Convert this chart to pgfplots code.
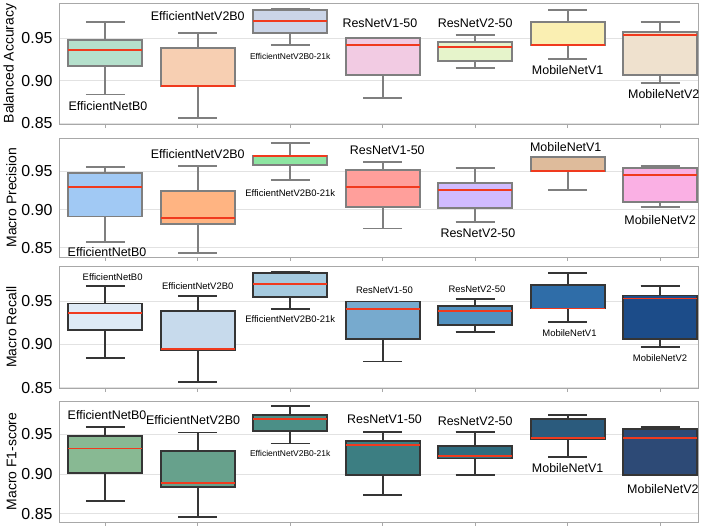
\documentclass[border=0pt]{standalone}
\usepackage{fontspec}
\setmainfont{Liberation Sans}
\usepackage{pgfplots}
\pgfplotsset{compat=1.18}
\usepgfplotslibrary{statistics}

\definecolor{edgeA}{HTML}{7F7F7F}
\definecolor{edgeB}{HTML}{353535}
\definecolor{medred}{HTML}{F03A1E}
\definecolor{axgray}{HTML}{A8A8A8}
\definecolor{gridgray}{HTML}{E2E2E2}
% panel 1 (Pastel2)
\definecolor{pa1}{HTML}{B5E0CC}\definecolor{pa2}{HTML}{F7CFB2}\definecolor{pa3}{HTML}{CBD5E8}
\definecolor{pa4}{HTML}{F2CBE3}\definecolor{pa5}{HTML}{E6F4CB}\definecolor{pa6}{HTML}{FAEFB2}
\definecolor{pa7}{HTML}{EFE1CE}
% panel 2 (pastel)
\definecolor{pb1}{HTML}{A1C9F4}\definecolor{pb2}{HTML}{FFB482}\definecolor{pb3}{HTML}{8DE5A1}
\definecolor{pb4}{HTML}{FF9F9B}\definecolor{pb5}{HTML}{D0BBFF}\definecolor{pb6}{HTML}{DEBB9B}
\definecolor{pb7}{HTML}{FAB0E4}
% panel 3 (Blues)
\definecolor{pc1}{HTML}{DEEAF5}\definecolor{pc2}{HTML}{C7DAEC}\definecolor{pc3}{HTML}{A5CADF}
\definecolor{pc4}{HTML}{77AACE}\definecolor{pc5}{HTML}{5191C0}\definecolor{pc6}{HTML}{2F6DA8}
\definecolor{pc7}{HTML}{1C4C89}
% panel 4 (crest)
\definecolor{pd1}{HTML}{88B993}\definecolor{pd2}{HTML}{67A18C}\definecolor{pd3}{HTML}{4B8F87}
\definecolor{pd4}{HTML}{3C7E82}\definecolor{pd5}{HTML}{2F6C7F}\definecolor{pd6}{HTML}{2B5B7D}
\definecolor{pd7}{HTML}{2D4A76}

\newcommand\lbl{\fontsize{12.5}{15}\selectfont}
\newcommand\lbm{\fontsize{9.5}{11}\selectfont}
\newcommand\lbs{\fontsize{8.5}{10}\selectfont}

% #1 position, #2 lower whisker, #3 Q1, #4 median, #5 Q3, #6 upper whisker, #7 fill, #8 edge
\newcommand{\bx}[8]{%
\addplot[boxplot prepared={draw position=#1, lower whisker=#2, lower quartile=#3,
  median=#4, upper quartile=#5, upper whisker=#6, box extend=0.8, whisker extend=0.42},
  draw=#8, line width=1.9pt, fill=#7, solid] coordinates {};}

\pgfplotsset{
  panel/.style={
    scale only axis, width=639bp, anchor=north west,
    xmin=-0.5, xmax=6.41,
    xtick={0,1,2,3,4,5,6}, xticklabels={},
    tick pos=left, tick align=outside, major tick length=4bp,
    ytick={0.85,0.90,0.95}, yticklabels={0.85,0.90,0.95},
    ytick style={draw=none},
    ymajorgrids, grid style={draw=gridgray, line width=0.8pt},
    axis line style={draw=axgray, line width=1pt},
    xtick style={draw=axgray, line width=0.8pt},
    ticklabel style={font=\fontsize{16}{19}\selectfont},
    yticklabel style={xshift=1bp},
    ylabel style={font=\fontsize{14}{17}\selectfont, yshift=-2bp},
    boxplot/draw direction=y,
    boxplot/every median/.style={draw=medred, line width=1.9pt},
  }
}

\begin{document}
\begin{tikzpicture}
\useasboundingbox (0,0) rectangle (708bp,-526bp);

% ---------- Balanced Accuracy ----------
\begin{axis}[panel, at={(59bp,-3bp)}, height=121bp, ymin=0.849, ymax=0.991,
  ylabel={Balanced Accuracy}]
\bx{0}{0.8836}{0.9168}{0.9363}{0.9473}{0.9684}{pa1}{edgeA}
\bx{1}{0.8563}{0.8934}{0.8941}{0.9383}{0.9559}{pa2}{edgeA}
\bx{2}{0.9414}{0.9559}{0.9703}{0.9824}{0.9844}{pa3}{edgeA}
\bx{3}{0.8800}{0.9066}{0.9414}{0.9496}{0.9496}{pa4}{edgeA}
\bx{4}{0.9148}{0.9230}{0.9391}{0.9449}{0.9531}{pa5}{edgeA}
\bx{5}{0.9258}{0.9414}{0.9414}{0.9691}{0.9832}{pa6}{edgeA}
\bx{6}{0.8973}{0.9066}{0.9539}{0.9570}{0.9684}{pa7}{edgeA}
\node[font=\lbl] at (0.03,0.870) {EfficientNetB0};
\node[font=\lbl] at (1.0,0.9754) {EfficientNetV2B0};
\node[font=\lbs] at (2.0,0.9285) {EfficientNetV2B0-21k};
\node[font=\lbl] at (2.97,0.9668) {ResNetV1-50};
\node[font=\lbl] at (4.0,0.9668) {ResNetV2-50};
\node[font=\lbl] at (5.0,0.9121) {MobileNetV1};
\node[font=\lbl] at (6.04,0.8844) {MobileNetV2};
\end{axis}

% ---------- Macro Precision ----------
\begin{axis}[panel, at={(59bp,-138bp)}, height=119bp, ymin=0.838, ymax=0.9935,
  ylabel={Macro Precision}]
\bx{0}{0.8574}{0.8909}{0.9296}{0.9478}{0.9552}{pb1}{edgeA}
\bx{1}{0.8435}{0.8813}{0.8887}{0.9248}{0.9565}{pb2}{edgeA}
\bx{2}{0.9391}{0.9587}{0.9696}{0.9696}{0.9870}{pb3}{edgeA}
\bx{3}{0.8752}{0.9030}{0.9291}{0.9517}{0.9626}{pb4}{edgeA}
\bx{4}{0.8839}{0.9022}{0.9252}{0.9352}{0.9543}{pb5}{edgeA}
\bx{5}{0.9252}{0.9504}{0.9504}{0.9687}{0.9687}{pb6}{edgeA}
\bx{6}{0.9035}{0.9104}{0.9452}{0.9543}{0.9565}{pb7}{edgeA}
\node[font=\lbl] at (0.02,0.8448) {EfficientNetB0};
\node[font=\lbl] at (1.0,0.973) {EfficientNetV2B0};
\node[font=\lbm] at (2.0,0.9217) {EfficientNetV2B0-21k};
\node[font=\lbl] at (3.05,0.9774) {ResNetV1-50};
\node[font=\lbl] at (4.03,0.8687) {ResNetV2-50};
\node[font=\lbl] at (4.98,0.9817) {MobileNetV1};
\node[font=\lbl] at (6.0,0.886) {MobileNetV2};
\end{axis}

% ---------- Macro Recall ----------
\begin{axis}[panel, at={(59bp,-266bp)}, height=122bp, ymin=0.8496, ymax=0.9907,
  ylabel={Macro Recall}]
\bx{0}{0.8841}{0.9167}{0.9364}{0.9473}{0.9678}{pc1}{edgeB}
\bx{1}{0.8562}{0.8938}{0.8946}{0.9391}{0.9558}{pc2}{edgeB}
\bx{2}{0.9411}{0.9550}{0.9702}{0.9826}{0.9837}{pc3}{edgeB}
\bx{3}{0.8802}{0.9066}{0.9411}{0.9496}{0.9496}{pc4}{edgeB}
\bx{4}{0.9147}{0.9229}{0.9388}{0.9442}{0.9523}{pc5}{edgeB}
\bx{5}{0.9260}{0.9415}{0.9415}{0.9686}{0.9826}{pc6}{edgeB}
\bx{6}{0.8969}{0.9066}{0.9531}{0.9566}{0.9678}{pc7}{edgeB}
\node[font=\lbm] at (0.08,0.9783) {EfficientNetB0};
\node[font=\lbm] at (1.0,0.9674) {EfficientNetV2B0};
\node[font=\lbm] at (2.0,0.9295) {EfficientNetV2B0-21k};
\node[font=\lbm] at (3.02,0.9628) {ResNetV1-50};
\node[font=\lbm] at (4.02,0.9643) {ResNetV2-50};
\node[font=\lbm] at (5.02,0.9132) {MobileNetV1};
\node[font=\lbm] at (6.0,0.8841) {MobileNetV2};
\end{axis}

% ---------- Macro F1-score ----------
\begin{axis}[panel, at={(59bp,-401bp)}, height=121bp, ymin=0.8395, ymax=0.9922,
  ylabel={Macro F1-score}]
\bx{0}{0.8660}{0.9011}{0.9323}{0.9475}{0.9593}{pd1}{edgeB}
\bx{1}{0.8458}{0.8842}{0.8892}{0.9293}{0.9525}{pd2}{edgeB}
\bx{2}{0.9386}{0.9538}{0.9698}{0.9745}{0.9854}{pd3}{edgeB}
\bx{3}{0.8740}{0.8987}{0.9365}{0.9420}{0.9534}{pd4}{edgeB}
\bx{4}{0.8985}{0.9196}{0.9230}{0.9352}{0.9534}{pd5}{edgeB}
\bx{5}{0.9217}{0.9437}{0.9454}{0.9694}{0.9745}{pd6}{edgeB}
\bx{6}{0.8985}{0.8985}{0.9458}{0.9568}{0.9593}{pd7}{edgeB}
\node[font=\lbl] at (0.02,0.9745) {EfficientNetB0};
\node[font=\lbl] at (0.95,0.9681) {EfficientNetV2B0};
\node[font=\lbs] at (2.0,0.926) {EfficientNetV2B0-21k};
\node[font=\lbl] at (3.02,0.969) {ResNetV1-50};
\node[font=\lbl] at (4.0,0.9673) {ResNetV2-50};
\node[font=\lbl] at (5.0,0.907) {MobileNetV1};
\node[font=\lbl] at (6.03,0.8808) {MobileNetV2};
\end{axis}
\end{tikzpicture}
\end{document}
